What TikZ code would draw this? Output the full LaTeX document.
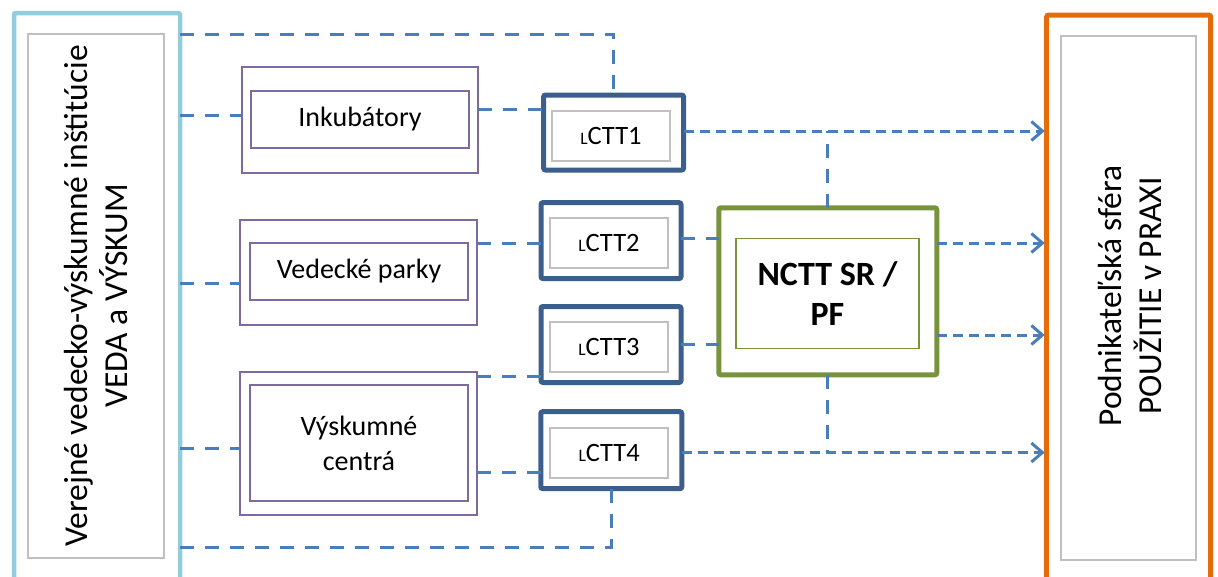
\documentclass[tikz,border=0pt]{standalone}
\usepackage{fontspec}
\setmainfont{Carlito}
\usetikzlibrary{arrows.meta}
\definecolor{lblue}{HTML}{93CDDD}
\definecolor{dblue}{HTML}{3B5E8C}
\definecolor{cgreen}{HTML}{77933C}
\definecolor{corange}{HTML}{E46C0A}
\definecolor{cpurple}{HTML}{7F6A9F}
\definecolor{cgray}{HTML}{C0C0C0}
\definecolor{cline}{HTML}{4A7EBB}
\begin{document}
\begin{tikzpicture}[x=1pt,y=-1pt,
  box/.style={draw, rectangle, inner sep=0pt, outer sep=0pt},
  sidebox/.style={box, line width=4.5pt, rounded corners=2pt},
  graybox/.style={box, draw=cgray, line width=1.6pt},
  purplebox/.style={box, draw=cpurple, line width=1.5pt},
  ctbox/.style={box, draw=dblue, line width=5pt, rounded corners=2pt},
  ctinner/.style={box, draw=cgray, line width=2pt, font=\fontsize{26.5}{30}\selectfont},
  boxtext/.style={font=\fontsize{28}{35}\selectfont, align=center},
  sidetext/.style={rotate=90, align=center, font=\fontsize{33.5}{40}\selectfont},
  conn/.style={draw=cline, line width=3pt, dash pattern=on 14pt off 11pt},
  arr/.style={conn, dash pattern=on 10pt off 6pt, shorten >=2pt, -{Straight Barb[length=11pt,width=19pt,line width=3pt]}}
]
\useasboundingbox (0,0) rectangle (1218,576);
\begin{scope}
\clip (0,0) rectangle (1218,576);
% side boxes
\node[sidebox, draw=lblue, minimum width=166pt, minimum height=620pt] (L) at (97,323) {};
\node[graybox, minimum width=136pt, minimum height=524pt] (Li) at (96,296) {};
\node[sidetext] (Lt) at (96,296) {Verejné vedecko-výskumné inštitúcie\\VEDA a VÝSKUM};
\node[sidebox, draw=corange, line width=5pt, minimum width=164pt, minimum height=620pt] (R) at (1128.7,325) {};
\node[graybox, minimum width=135pt, minimum height=524pt] (Ri) at (1128.3,298) {};
\node[sidetext] (Rt) at (1130,296) {Podnikateľská sféra\\POUŽITIE v PRAXI};
% purple boxes
\node[purplebox, minimum width=236pt, minimum height=106pt] (I1) at (360,120) {};
\node[purplebox, boxtext, minimum width=218pt, minimum height=57pt] (I1i) at (360,119.5) {Inkubátory};
\node[purplebox, minimum width=237pt, minimum height=105pt] (V1) at (358.5,272.5) {};
\node[purplebox, boxtext, minimum width=218pt, minimum height=57pt] (V1i) at (359,271.5) {Vedecké parky};
\node[purplebox, minimum width=237pt, minimum height=143pt] (Vy) at (358.5,443.5) {};
\node[purplebox, boxtext, minimum width=218pt, minimum height=116pt] (Vyi) at (359,443) {Výskumné\\centrá};
% LCTT boxes
\node[ctbox, minimum width=140pt, minimum height=75pt] (C1) at (613.6,132.5) {};
\node[ctinner, minimum width=118pt, minimum height=50pt] (C1i) at (611,136) {{\fontsize{17.5}{17.5}\selectfont L}CTT1};
\node[ctbox, minimum width=140pt, minimum height=76pt] (C2) at (611,240.6) {};
\node[ctinner, minimum width=118pt, minimum height=50pt] (C2i) at (609,243.3) {{\fontsize{17.5}{17.5}\selectfont L}CTT2};
\node[ctbox, minimum width=140pt, minimum height=76pt] (C3) at (611,344.5) {};
\node[ctinner, minimum width=118pt, minimum height=50pt] (C3i) at (609,346.7) {{\fontsize{17.5}{17.5}\selectfont L}CTT3};
\node[ctbox, minimum width=141pt, minimum height=77pt] (C4) at (611.3,450.2) {};
\node[ctinner, minimum width=118pt, minimum height=50pt] (C4i) at (609.2,452.5) {{\fontsize{17.5}{17.5}\selectfont L}CTT4};
% NCTT
\node[box, draw=cgreen, line width=5pt, rounded corners=2pt, minimum width=218pt, minimum height=167pt] (N) at (827.8,291.3) {};
\node[box, draw=cgreen, line width=1.5pt, minimum width=183pt, minimum height=110pt, align=center, font=\fontsize{34}{40}\selectfont\bfseries] (Ni) at (827.5,293.5) {NCTT SR /\\PF};
% connectors
\draw[conn] (L.east |- 0,34) -| (C1.north);
\draw[conn] (L.east |- 0,115) -- (I1.west |- 0,115);
\draw[conn] (L.east |- 0,283) -- (V1.west |- 0,283);
\draw[conn] (L.east |- 0,448) -- (Vy.west |- 0,448);
\draw[conn] (L.east |- 0,547) -| (C4.south);
\draw[conn] (I1.east |- 0,109) -- (C1.west |- 0,109);
\draw[conn] (V1.east |- 0,243) -- (C2.west |- 0,243);
\draw[conn] (Vy.east |- 0,376.5) -- (C3.west |- 0,376.5);
\draw[conn] (Vy.east |- 0,472.5) -- (C4.west |- 0,472.5);
\draw[conn] (C2.east |- 0,238) -- (N.west |- 0,238);
\draw[conn] (C3.east |- 0,344) -- (N.west |- 0,344);
\draw[conn] (N.north) -- (N.north |- 0,131);
\draw[conn] (N.south) -- (N.south |- 0,452.5);
\draw[arr] (C1.east |- 0,131) -- (R.west |- 0,131);
\draw[arr] (N.east |- 0,243) -- (R.west |- 0,243);
\draw[arr] (N.east |- 0,335) -- (R.west |- 0,335);
\draw[arr] (C4.east |- 0,452.5) -- (R.west |- 0,452.5);
\end{scope}
\end{tikzpicture}
\end{document}
